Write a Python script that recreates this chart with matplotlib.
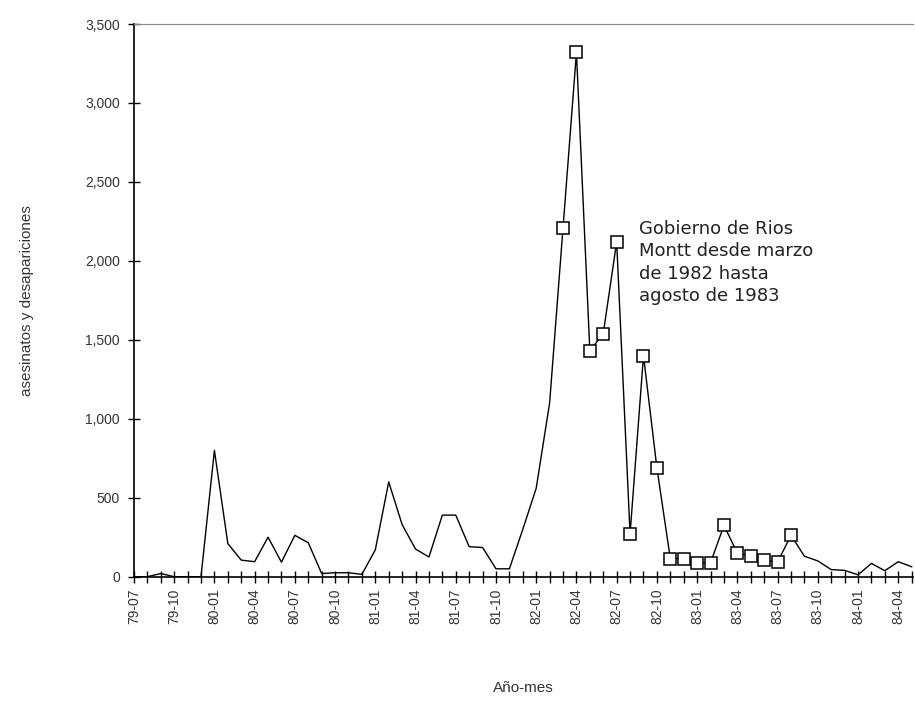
import matplotlib.pyplot as plt
import numpy as np
from matplotlib.ticker import FuncFormatter, MultipleLocator

# Monthly killings and disappearances, 79-07 .. 84-05
months = [
    "79-07", "79-08", "79-09", "79-10", "79-11", "79-12",
    "80-01", "80-02", "80-03", "80-04", "80-05", "80-06",
    "80-07", "80-08", "80-09", "80-10", "80-11", "80-12",
    "81-01", "81-02", "81-03", "81-04", "81-05", "81-06",
    "81-07", "81-08", "81-09", "81-10", "81-11", "81-12",
    "82-01", "82-02", "82-03", "82-04", "82-05", "82-06",
    "82-07", "82-08", "82-09", "82-10", "82-11", "82-12",
    "83-01", "83-02", "83-03", "83-04", "83-05", "83-06",
    "83-07", "83-08", "83-09", "83-10", "83-11", "83-12",
    "84-01", "84-02", "84-03", "84-04", "84-05",
]
victims = [
    0, 0, 20, 0, 0, 0,
    800, 210, 105, 95, 250, 92,
    262, 215, 20, 25, 25, 15,
    170, 600, 330, 175, 125, 390,
    390, 190, 185, 50, 50, 300,
    560, 1100, 2210, 3320, 1430, 1540,
    2120, 270, 1400, 690, 115, 115,
    88, 88, 325, 150, 130, 105,
    92, 262, 130, 100, 45, 40,
    12, 84, 38, 95, 63,
]
# Rios Montt government, marked with squares
montt_start = "82-03"
montt_end = "83-08"
annotation = "Gobierno de Rios\nMontt desde marzo\nde 1982 hasta\nagosto de 1983"

plt.rcParams['font.family'] = ['Liberation Sans', 'DejaVu Sans']

x = np.arange(len(months))
i0 = months.index(montt_start)
i1 = months.index(montt_end)

fig = plt.figure(figsize=(9.15, 7.09), dpi=100)
ax = fig.add_axes([0.1464, 0.1866, 0.8514, 0.7795])

ax.plot(x, victims, color='black', linewidth=1.0,
        marker='s', markevery=list(range(i0, i1 + 1)),
        markersize=8, markerfacecolor='white', markeredgecolor='black',
        markeredgewidth=1.1)

ax.set_xlim(0, 58.1)
ax.set_ylim(0, 3500)

ax.set_xticks(x[::3])
ax.set_xticklabels(months[::3], rotation=90, fontsize=10, color='#333333')
ax.set_xticks(x, minor=True)
ax.tick_params(axis='x', which='both', direction='inout', length=9,
               width=1.0, pad=4)
ax.yaxis.set_major_locator(MultipleLocator(500))
ax.yaxis.set_major_formatter(FuncFormatter(lambda v, p: f"{int(v):,}"))
ax.tick_params(axis='y', direction='inout', length=8, width=1.0,
               labelsize=10, labelcolor='#333333', pad=6)

ax.spines['right'].set_visible(False)
ax.spines['top'].set_color('#888888')
ax.spines['left'].set_linewidth(1.2)
ax.spines['bottom'].set_linewidth(1.2)

ax.set_ylabel("asesinatos y desapariciones", fontsize=11, color='#333333',
              labelpad=37)
ax.set_xlabel("Año-mes", fontsize=11, color='#333333', labelpad=41)

ax.text(37.7, 1990, annotation, fontsize=13, color='#222222',
        family='DejaVu Sans', va='center', ha='left', linespacing=1.3)

fig.savefig("out.png", dpi=100)
